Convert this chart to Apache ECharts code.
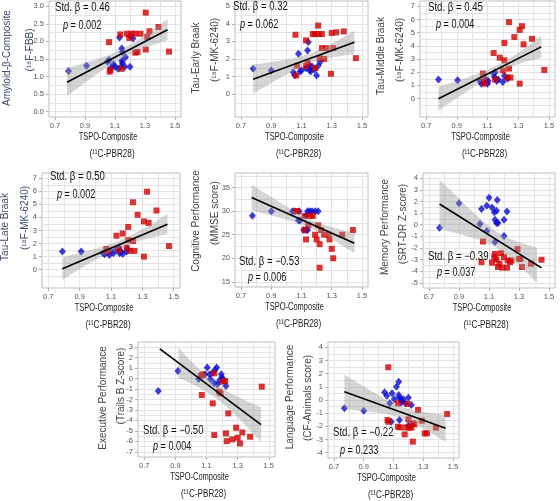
<!DOCTYPE html>
<html>
<head>
<meta charset="utf-8">
<script src="https://cdn.jsdelivr.net/npm/echarts@6/dist/echarts.min.js"></script>
<style>
html,body{margin:0;padding:0;background:#fff;}
#chart{width:560px;height:501px;}
</style>
</head>
<body>
<div id="chart"></div>
<script>
// ---------- text ----------
const xTitle = 'TSPO-Composite';
const xSubtitle = '(¹¹C-PBR28)';
const yTitles = ['Amyloid-β-Composite','Tau-Early Braak','Tau-Middle Braak','Tau-Late Braak',
  'Cognitive Performance','Memory Performance','Executive Performance','Language Performance'];
const ySubtitles = ['(¹⁸F-FBB)','(¹⁸F-MK-6240)','(¹⁸F-MK-6240)','(¹⁸F-MK-6240)',
  '(MMSE score)','(SRT-DR Z-score)','(Trails B Z-score)','(CF-Animals score)'];
const betaTexts = ['0.46','0.32','0.45','0.50','−0.53','−0.39','−0.50','−0.22'];
const pTexts = ['0.002','0.062','0.004','0.002','0.006','0.037','0.004','0.233'];

// ---------- ticks ----------
const xLimits = [0.66, 1.54];
const xLabelTicks = [0.7, 0.9, 1.1, 1.3, 1.5];
const xGridTicks = [0.7, 0.8, 0.9, 1.0, 1.1, 1.2, 1.3, 1.4, 1.5];
const yLimits = [[-0.15,3.15],[-1.3,5.3],[-1.4,7.4],[-1.4,7.4],[13.9,38.1],[-5.45,4.45],[-7.5,3.5],[-4.4,4.4]];
const yLabelTicks = [
  [0,0.5,1,1.5,2,2.5,3],
  [0,1,2,3,4,5],
  [0,1,2,3,4,5,6,7],
  [0,1,2,3,4,5,6,7],
  [15,20,25,30,35],
  [-5,-4,-3,-2,-1,0,1,2,3,4],
  [-7,-6,-5,-4,-3,-2,-1,0,1,2,3],
  [-4,-3,-2,-1,0,1,2,3,4]
];
const yGridTicks = [
  [0,0.25,0.5,0.75,1,1.25,1.5,1.75,2,2.25,2.5,2.75,3],
  [-0.5,0,0.5,1,1.5,2,2.5,3,3.5,4,4.5,5],
  [-0.5,0,0.5,1,1.5,2,2.5,3,3.5,4,4.5,5,5.5,6,6.5,7],
  [-0.5,0,0.5,1,1.5,2,2.5,3,3.5,4,4.5,5,5.5,6,6.5,7],
  [15,17.5,20,22.5,25,27.5,30,32.5,35,37.5],
  [-5,-4.5,-4,-3.5,-3,-2.5,-2,-1.5,-1,-0.5,0,0.5,1,1.5,2,2.5,3,3.5,4],
  [-7,-6.5,-6,-5.5,-5,-4.5,-4,-3.5,-3,-2.5,-2,-1.5,-1,-0.5,0,0.5,1,1.5,2,2.5,3],
  [-4,-3.5,-3,-2.5,-2,-1.5,-1,-0.5,0,0.5,1,1.5,2,2.5,3,3.5,4]
];
const yDecimals = [1,0,0,0,0,0,0,0];

// ---------- data ----------
const p1Blue = [[0.79,1.16],[0.91,1.31],[1.05,1.42],[1.06,1.47],[1.07,1.24],[1.09,1.35],[1.10,1.28],[1.12,1.22],[1.13,2.11],[1.14,1.28],[1.145,1.80],[1.15,1.70],[1.145,1.44],[1.15,1.38],[1.17,1.55],[1.165,1.28],[1.20,2.17],[1.20,1.28],[1.22,2.08]];
const p1Red = [[1.06,1.98],[1.07,1.19],[1.065,1.14],[1.135,2.20],[1.145,1.22],[1.18,2.22],[1.195,2.10],[1.21,2.22],[1.235,2.22],[1.27,2.22],[1.305,2.82],[1.33,2.29],[1.315,2.13],[1.39,2.41],[1.305,1.77],[1.235,1.68],[1.25,1.70],[1.46,1.71]];
const p1Fit = [[0.78,0.84],[1.45,2.33]];
const p1BandX = [0.78,0.85,0.95,1.05,1.15,1.25,1.35,1.45];
const p1Lo = [0.45,0.67,0.98,1.28,1.53,1.73,1.89,2.03];
const p1Hi = [1.23,1.33,1.46,1.60,1.79,2.03,2.33,2.63];

const p2Blue = [[0.78,1.44],[0.90,1.35],[1.045,1.24],[1.055,1.08],[1.08,2.30],[1.09,1.29],[1.10,1.35],[1.13,1.48],[1.14,2.49],[1.145,2.97],[1.15,1.67],[1.155,1.39],[1.16,1.29],[1.17,1.58],[1.185,1.39],[1.20,1.06],[1.21,1.62],[1.225,1.84]];
const p2Red = [[1.06,3.38],[1.07,1.62],[1.065,1.06],[1.13,3.06],[1.14,1.77],[1.13,1.60],[1.175,3.42],[1.19,3.42],[1.21,3.90],[1.215,3.42],[1.235,3.42],[1.235,2.62],[1.22,2.05],[1.25,2.00],[1.265,2.62],[1.30,3.48],[1.33,3.52],[1.38,3.57],[1.295,1.16],[1.31,2.62],[1.46,2.05],[1.19,1.48]];
const p2Fit = [[0.78,0.85],[1.45,2.95]];
const p2BandX = [0.78,0.85,0.95,1.05,1.15,1.25,1.35,1.45];
const p2Lo = [0.02,0.38,0.87,1.35,1.74,2.00,2.15,2.29];
const p2Hi = [1.68,1.76,1.89,2.05,2.28,2.64,3.11,3.61];

const p3Blue = [[0.78,1.44],[0.905,1.39],[1.05,1.34],[1.06,1.13],[1.075,1.26],[1.09,1.44],[1.105,1.34],[1.10,1.13],[1.14,1.89],[1.15,1.99],[1.145,1.64],[1.16,1.34],[1.17,1.44],[1.20,1.26],[1.21,1.72],[1.23,1.51]];
const p3Red = [[1.07,1.89],[1.08,1.13],[1.08,1.39],[1.14,3.45],[1.15,1.44],[1.18,3.10],[1.20,2.14],[1.21,2.90],[1.21,4.22],[1.23,1.59],[1.24,2.27],[1.24,5.80],[1.25,1.59],[1.275,4.66],[1.31,5.21],[1.325,5.49],[1.31,1.13],[1.335,4.11],[1.39,4.53],[1.47,2.17]];
const p3Fit = [[0.78,-0.02],[1.45,3.92]];
const p3BandX = [0.78,0.85,0.95,1.05,1.15,1.25,1.35,1.45];
const p3Lo = [-0.92,-0.36,0.43,1.19,1.87,2.39,2.81,3.08];
const p3Hi = [0.88,1.14,1.53,1.95,2.45,3.09,3.85,4.78];

const p4Blue = [[0.79,1.39],[0.91,1.39],[1.05,1.26],[1.06,1.18],[1.08,1.34],[1.09,1.13],[1.10,1.44],[1.115,1.26],[1.135,1.59],[1.15,1.69],[1.155,1.26],[1.165,1.39],[1.175,1.21],[1.20,1.39],[1.205,1.59]];
const p4Red = [[1.07,1.59],[1.08,1.39],[1.135,2.60],[1.15,1.51],[1.175,2.77],[1.20,1.69],[1.21,2.27],[1.21,3.27],[1.22,1.44],[1.24,5.16],[1.24,2.19],[1.25,1.44],[1.27,4.20],[1.31,1.00],[1.31,3.70],[1.33,5.97],[1.34,3.58],[1.39,4.53],[1.47,1.81]];
const p4Fit = [[0.79,0.08],[1.46,3.48]];
const p4BandX = [0.79,0.85,0.95,1.05,1.15,1.25,1.35,1.46];
const p4Lo = [-0.77,-0.30,0.39,1.06,1.65,2.11,2.45,2.72];
const p4Hi = [0.93,1.12,1.43,1.78,2.21,2.77,3.43,4.26];

const p5Blue = [[0.775,29],[0.90,30],[1.04,30],[1.055,30],[1.08,28],[1.09,28],[1.085,30],[1.115,26],[1.13,26],[1.13,29],[1.14,30],[1.14,26],[1.155,30],[1.17,30],[1.19,30],[1.21,30]];
const p5Red = [[1.065,30],[1.07,30],[1.12,29],[1.12,26],[1.13,24],[1.145,27],[1.16,29],[1.175,29],[1.19,25],[1.20,24],[1.21,27],[1.22,23],[1.22,18],[1.23,26],[1.25,25],[1.28,25],[1.285,24],[1.30,22],[1.31,20],[1.37,25],[1.44,26]];
const p5Fit = [[0.77,32.9],[1.45,23.2]];
const p5BandX = [0.77,0.85,0.95,1.05,1.15,1.25,1.35,1.45];
const p5Lo = [30.2,29.5,28.68,27.77,26.61,25.01,23.08,21.05];
const p5Hi = [35.6,34.02,31.98,30.05,28.35,27.11,26.18,25.35];

const p6Blue = [[0.77,-0.27],[0.90,1.84],[1.04,0.07],[1.05,1.36],[1.085,1.64],[1.10,2.31],[1.12,1.47],[1.135,1.08],[1.15,1.19],[1.14,0.43],[1.15,0.15],[1.16,0.15],[1.155,2.12],[1.20,0.43],[1.22,1.13],[1.20,-0.97],[1.085,-0.55],[1.14,-1.48]];
const p6Red = [[1.06,-1.45],[1.05,-3.22],[1.12,-3.27],[1.135,-2.80],[1.14,-2.52],[1.15,-3.02],[1.16,-3.64],[1.17,-3.36],[1.18,-2.46],[1.19,-3.70],[1.20,-2.80],[1.22,-3.70],[1.225,-3.08],[1.24,-3.22],[1.25,-3.08],[1.29,-2.10],[1.30,-2.94],[1.31,-2.94],[1.32,-3.64],[1.38,-3.36],[1.45,-3.02]];
const p6Fit = [[0.77,1.78],[1.45,-3.72]];
const p6BandX = [0.77,0.85,0.95,1.05,1.15,1.25,1.35,1.42];
const p6Lo = [-0.35,-0.63,-0.97,-1.36,-1.97,-2.92,-4.11,-5.00];
const p6Hi = [3.85,2.89,1.61,0.40,-0.61,-1.28,-1.71,-1.96];

const p7Blue = [[0.79,-1.19],[0.917,0.73],[1.05,-0.04],[1.09,0.41],[1.105,1.05],[1.12,0.41],[1.125,-0.07],[1.14,0.57],[1.15,-0.45],[1.155,0.83],[1.165,1.05],[1.17,-0.55],[1.185,-0.13],[1.195,0.41],[1.20,0.09],[1.21,-0.13],[1.225,-0.71]];
const p7Red = [[1.065,0.28],[1.075,0.41],[1.07,-1.57],[1.14,-2.37],[1.15,-5.40],[1.15,0.50],[1.18,-1.25],[1.19,-1.41],[1.205,-0.29],[1.22,-0.23],[1.225,-5.24],[1.23,-5.98],[1.24,-3.33],[1.265,-5.82],[1.29,-4.70],[1.30,-5.66],[1.315,-6.20],[1.33,-5.15],[1.38,-5.56],[1.455,-0.77]];
const p7Fit = [[0.80,2.84],[1.45,-4.40]];
const p7BandX = [0.92,0.95,1.05,1.15,1.25,1.35,1.45];
const p7Lo = [0.00,-0.11,-0.82,-1.73,-2.98,-4.47,-6.05];
const p7Hi = [3.00,2.45,0.94,-0.39,-1.36,-2.09,-2.75];

const p8Blue = [[0.77,-0.63],[0.90,-0.81],[1.04,0.58],[1.055,0.33],[1.075,-0.25],[1.085,-1.65],[1.09,0.51],[1.105,0.08],[1.12,1.01],[1.135,1.39],[1.135,0.38],[1.14,0.18],[1.15,0.00],[1.155,-0.18],[1.165,0.08],[1.18,-0.25],[1.22,-0.38],[1.20,-1.95],[1.20,0.18],[1.14,-1.52]];
const p8Red = [[1.065,2.48],[1.06,-1.52],[1.065,-1.65],[1.13,-0.25],[1.13,-2.03],[1.145,-2.08],[1.175,-2.61],[1.185,-2.08],[1.195,-0.30],[1.20,-1.47],[1.205,-2.10],[1.22,-2.10],[1.23,-1.77],[1.24,-1.85],[1.23,-3.16],[1.265,-0.76],[1.29,-1.57],[1.31,-2.53],[1.325,-2.53],[1.385,-2.10],[1.46,-1.06]];
const p8Fit = [[0.77,0.63],[1.45,-2.15]];
const p8BandX = [0.77,0.85,0.95,1.05,1.15,1.25,1.35,1.45];
const p8Lo = [-0.67,-0.79,-0.91,-1.07,-1.34,-1.84,-2.49,-3.18];
const p8Hi = [1.93,1.39,0.69,0.03,-0.50,-0.82,-0.99,-1.12];

// ---------- layout ----------
const boxes = [[49,1,181,117],[235,1,368,117],[420,1,555,117],[42,173,180,288],
  [235,173,368,287],[423,173,555,288],[138,342,275,457],[328,342,459,458]];
const yTitlePos = [[7,58,30,50],[196,58,215,50],[381,56,400,50],[5,227,25,218],
  [196,221,215,213],[385,227,403,224],[103,398,121,386],[290,397,308,398]];
const statPos = [[55,8,63,26],[233,7,240,25],[428,8,436,25],[50,177,57,195],
  [239,262,248,278],[428,257,437,273],[143,431,153,447],[333,433,340,451]];
const yTitleColors = ['#3b4a6e','#4a4239','#4a4239','#3b4a6e','#4a4239','#4a4239','#4a4239','#4a4239'];

const FAM = '"Liberation Sans", Arial, sans-serif';
const BLUE = '#0a0acc';
const RED = '#d20000';
const GRIDC = '#e3e3e3';

const panelData = [
  [p1Blue,p1Red,p1Fit,p1BandX,p1Lo,p1Hi],
  [p2Blue,p2Red,p2Fit,p2BandX,p2Lo,p2Hi],
  [p3Blue,p3Red,p3Fit,p3BandX,p3Lo,p3Hi],
  [p4Blue,p4Red,p4Fit,p4BandX,p4Lo,p4Hi],
  [p5Blue,p5Red,p5Fit,p5BandX,p5Lo,p5Hi],
  [p6Blue,p6Red,p6Fit,p6BandX,p6Lo,p6Hi],
  [p7Blue,p7Red,p7Fit,p7BandX,p7Lo,p7Hi],
  [p8Blue,p8Red,p8Fit,p8BandX,p8Lo,p8Hi]
];

const grid = [], xAxis = [], yAxis = [], series = [], graphic = [];
const tickLabelStyle = {fontSize:7.5, color:'#555', fontFamily:FAM, margin:5};

panelData.forEach((pd, i) => {
  const [blue, red, fit, bx, lo, hi] = pd;
  const b = boxes[i];
  grid.push({left:b[0], top:b[1], width:b[2]-b[0], height:b[3]-b[1], show:true,
    borderColor:'#bdbdbd', borderWidth:1, backgroundColor:'transparent', containLabel:false});
  xAxis.push({gridIndex:i, type:'value', min:xLimits[0], max:xLimits[1], position:'bottom',
    axisLine:{show:false, onZero:false}, axisTick:{show:false, customValues:xGridTicks},
    splitLine:{show:true, lineStyle:{color:GRIDC, width:1}},
    axisLabel:Object.assign({customValues:xLabelTicks, formatter:v=>Number(v).toFixed(1)}, tickLabelStyle)});
  xAxis.push({gridIndex:i, type:'value', min:xLimits[0], max:xLimits[1], position:'bottom',
    axisLine:{show:false, onZero:false}, axisTick:{show:true, length:3, customValues:xLabelTicks, lineStyle:{color:'#b0b0b0'}},
    splitLine:{show:false}, axisLabel:{show:false}});
  const yl = yLimits[i], dec = yDecimals[i];
  yAxis.push({gridIndex:i, type:'value', min:yl[0], max:yl[1], position:'left',
    axisLine:{show:false, onZero:false}, axisTick:{show:false, customValues:yGridTicks[i]},
    splitLine:{show:true, lineStyle:{color:GRIDC, width:1}},
    axisLabel:Object.assign({customValues:yLabelTicks[i], formatter:v=>Number(v).toFixed(dec)}, tickLabelStyle)});
  yAxis.push({gridIndex:i, type:'value', min:yl[0], max:yl[1], position:'left',
    axisLine:{show:false, onZero:false}, axisTick:{show:true, length:3, customValues:yLabelTicks[i], lineStyle:{color:'#b0b0b0'}},
    splitLine:{show:false}, axisLabel:{show:false}});
  const xi = 2*i, yi = 2*i;
  series.push({type:'scatter', xAxisIndex:xi, yAxisIndex:yi, data:blue, symbol:'diamond', symbolSize:[7,8],
    itemStyle:{color:BLUE}, silent:true, z:2});
  series.push({type:'scatter', xAxisIndex:xi, yAxisIndex:yi, data:red, symbol:'rect', symbolSize:6,
    itemStyle:{color:RED}, silent:true, z:2});
  series.push({type:'custom', xAxisIndex:xi, yAxisIndex:yi, clip:true, silent:true, z:3,
    data: bx.map((x,k)=>[x, lo[k], hi[k]]),
    encode:{x:0, y:[1,2]},
    renderItem:(params, api) => {
      if (params.dataIndex !== 0) return {type:'group', children:[]};
      const pts = [];
      for (let k=0;k<bx.length;k++) pts.push(api.coord([bx[k], hi[k]]));
      for (let k=bx.length-1;k>=0;k--) pts.push(api.coord([bx[k], lo[k]]));
      return {type:'polygon', shape:{points:pts}, style:{fill:'rgba(150,150,150,0.4)'}};
    }});
  series.push({type:'line', xAxisIndex:xi, yAxisIndex:yi, data:fit, showSymbol:false, symbol:'none',
    lineStyle:{color:'#000', width:1.6}, silent:true, z:4});

  const cx = (b[0]+b[2])/2;
  graphic.push({type:'text', x:cx-7, y:b[3]+20, scaleX:0.68, style:{text:xTitle, fill:'#222',
    font:'11px ' + FAM, textAlign:'center', textVerticalAlign:'middle'}});
  graphic.push({type:'text', x:cx-3, y:b[3]+37, scaleX:0.74, style:{text:xSubtitle, fill:'#222',
    font:'11px ' + FAM, textAlign:'center', textVerticalAlign:'middle'}});
  const yp = yTitlePos[i];
  graphic.push({type:'text', x:yp[0], y:yp[1], rotation:Math.PI/2, style:{text:yTitles[i], fill:yTitleColors[i],
    font:'10px ' + FAM, textAlign:'center', textVerticalAlign:'middle'}});
  graphic.push({type:'text', x:yp[2], y:yp[3], rotation:Math.PI/2, style:{text:ySubtitles[i], fill:yTitleColors[i],
    font:'10px ' + FAM, textAlign:'center', textVerticalAlign:'middle'}});
  const sp = statPos[i];
  graphic.push({type:'text', x:sp[0], y:sp[1], z:10, scaleX:0.8, style:{text:'Std. β = ' + betaTexts[i], fill:'#111',
    font:'12px ' + FAM, textAlign:'left', textVerticalAlign:'middle'}});
  graphic.push({type:'text', x:sp[2], y:sp[3], z:10, scaleX:0.76, style:{text:'{i|p}{n| = ' + pTexts[i] + '}', fill:'#111',
    font:'12px ' + FAM, textAlign:'left', textVerticalAlign:'middle',
    rich:{i:{font:'italic 12px ' + FAM, fill:'#111'}, n:{font:'12px ' + FAM, fill:'#111'}}}});
});

const chart = echarts.init(document.getElementById('chart'), null, {renderer:'canvas'});
chart.setOption({
  animation:false,
  backgroundColor:'#fff',
  grid, xAxis, yAxis, series, graphic
});
</script>
</body>
</html>
